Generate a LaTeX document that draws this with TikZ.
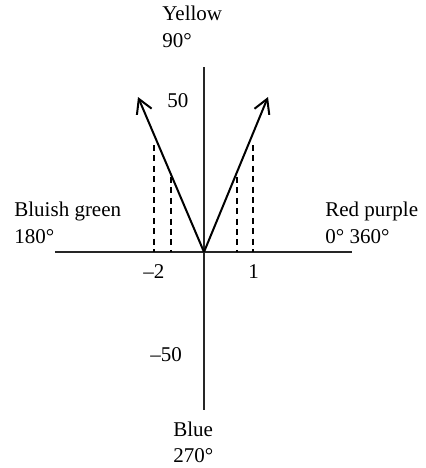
\documentclass[tikz,border=0pt]{standalone}
\usepackage{fontspec}
\setmainfont{Liberation Serif}
\usetikzlibrary{arrows.meta}
\begin{document}
\begin{tikzpicture}[x=0.5pt,y=-0.5pt,
  lbl/.style={inner sep=0pt,anchor=base west,font=\fontsize{10.5}{12.6}\selectfont},
  axisline/.style={line width=0.6pt,draw=black!85},
  vecline/.style={line width=1pt,-{Straight Barb[length=7pt,width=8pt,line width=1pt]}},
  dashline/.style={line width=0.6pt,dash pattern=on 3pt off 2.2pt}]
\useasboundingbox (0,0) rectangle (425,468);
% axes
\coordinate (O) at (204,252);
\coordinate (xl) at (55,252);
\coordinate (xr) at (352,252);
\coordinate (yt) at (204,67);
\coordinate (yb) at (204,410);
\draw[axisline] (xl) -- (xr);
\draw[axisline] (yt) -- (yb);
% vectors
\coordinate (tipR) at (268,97);
\coordinate (tipL) at (138,97);
\draw[vecline] (O) -- (tipR);
\draw[vecline] (O) -- (tipL);
% dashed lines
\coordinate (dRo) at (253,145); \coordinate (dRob) at (253,252);
\coordinate (dRi) at (237,177); \coordinate (dRib) at (237,252);
\coordinate (dLo) at (154,145); \coordinate (dLob) at (154,252);
\coordinate (dLi) at (171,177); \coordinate (dLib) at (171,252);
\draw[dashline] (dRo) -- (dRob);
\draw[dashline] (dRi) -- (dRib);
\draw[dashline] (dLo) -- (dLob);
\draw[dashline] (dLi) -- (dLib);
% labels
\node[lbl] (yel) at (162,20) {Yellow};
\node[lbl] (y90) at (162,47) {90°};
\node[lbl] (bg) at (14,216) {Bluish green};
\node[lbl] (b180) at (14,243) {180°};
\node[lbl] (rp) at (325,216) {Red purple};
\node[lbl] (r0) at (325,243) {0° 360°};
\node[lbl] (blue) at (173,436) {Blue};
\node[lbl] (b270) at (173,462) {270°};
\node[lbl] (p50) at (167,107) {50};
\node[lbl] (m50) at (150,361) {–50};
\node[lbl] (m2) at (143,278) {–2};
\node[lbl] (p1) at (248,278) {1};
\end{tikzpicture}
\end{document}
